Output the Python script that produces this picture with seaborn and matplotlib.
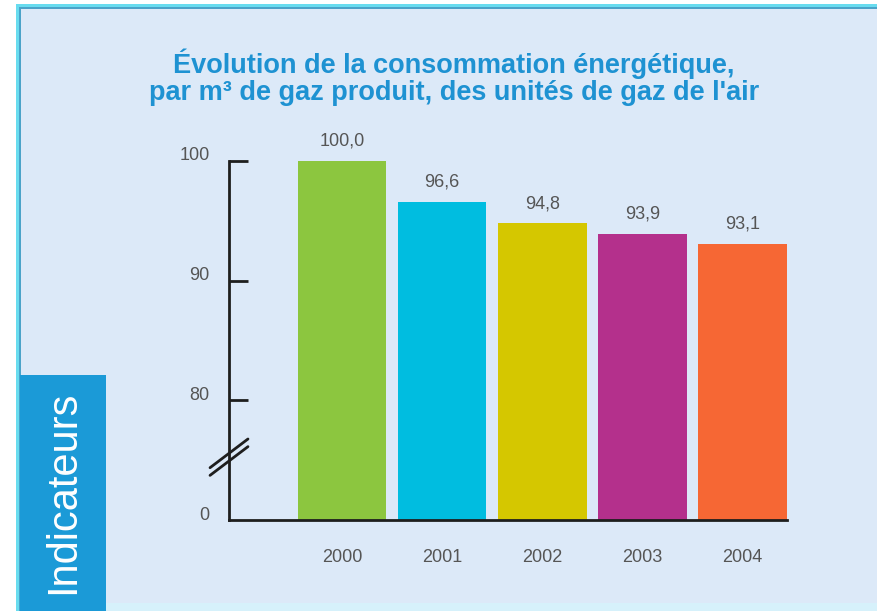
import matplotlib
matplotlib.use("Agg")
import matplotlib.pyplot as plt
from matplotlib.patches import Rectangle
from matplotlib.transforms import ScaledTranslation, blended_transform_factory
import seaborn as sns
import pandas as pd

# ---- data ----
years = ["2000", "2001", "2002", "2003", "2004"]
values = [100.0, 96.6, 94.8, 93.9, 93.1]
bar_colors = ["#8cc63f", "#00bde0", "#d5c700", "#b4308c", "#f66734"]
tick_values = [0, 80, 90, 100]
tick_labels = ["0", "80", "90", "100"]
title_line1 = "Évolution de la consommation énergétique,"
title_line2 = "par m³ de gaz produit, des unités de gaz de l'air"
side_label = "Indicateurs"

# broken axis: everything above the break is shifted down by this amount
BREAK_OFFSET = 70


def to_axis(v):
    return 0 if v == 0 else v - BREAK_OFFSET


df = pd.DataFrame({"year": years, "value": values})
df["plot_value"] = [to_axis(v) for v in values]

sns.set_theme(style="white")
plt.rcParams["font.family"] = ["Liberation Sans", "DejaVu Sans"]

W, H = 878, 611
fig = plt.figure(figsize=(W / 100, H / 100), dpi=100)
fig.patch.set_facecolor("white")


def frect(x0, y0_top, w, h, color, z=0):
    # rectangle in pixel coords measured from top-left
    fig.patches.append(Rectangle((x0 / W, 1 - (y0_top + h) / H), w / W, h / H,
                                 transform=fig.transFigure, facecolor=color,
                                 edgecolor="none", zorder=z))


# panel + frame
frect(16, 4, W - 16, H - 4, "#dce9f8", 0)
frect(16, 603, W - 16, 8, "#d6f1fb", 0.5)
frect(16, 4, W - 16, 3, "#68dcef", 1)
frect(16, 7, W - 16, 2, "#4ba3c9", 1)
frect(16, 4, 3, H - 4, "#68dcef", 1)
frect(19, 7, 2, H - 7, "#4ba3c9", 1)
# side label box
frect(20, 375, 86, H - 375, "#1b9ad7", 2)
fig.text(63 / W, 1 - 492 / H, side_label, rotation=90, ha="center", va="center",
         color="white", fontsize=30, zorder=3)

# title
title_color = "#1e92d2"
fig.text(454 / W, 1 - 73 / H, title_line1, ha="center", va="baseline",
         fontsize=19.5, fontweight="bold", color=title_color, zorder=3)
fig.text(454 / W, 1 - 100 / H, title_line2, ha="center", va="baseline",
         fontsize=19.5, fontweight="bold", color=title_color, zorder=3)

# axes
ax = fig.add_axes([229 / W, 91 / H, 558 / W, 359 / H])
ax.set_zorder(10)
ax.set_facecolor("none")
sns.barplot(data=df, x="year", y="plot_value", hue="year", palette=bar_colors,
            legend=False, width=0.885, saturation=1, linewidth=0, ax=ax, zorder=2)
ax.set_xlim(-1.13, 4.445)
ax.set_ylim(0, 30)
ax.set_xlabel("")
ax.set_ylabel("")

axis_color = "#1e1e1e"
for s in ["top", "right"]:
    ax.spines[s].set_visible(False)
for s in ["left", "bottom"]:
    ax.spines[s].set_color(axis_color)
    ax.spines[s].set_linewidth(2.0)
    ax.spines[s].set_zorder(3)

text_color = "#555555"
ax.set_yticks([to_axis(v) for v in tick_values])
ax.set_yticklabels(tick_labels)
ax.tick_params(axis="y", left=True, direction="in", length=14, width=2, color=axis_color,
               pad=14, labelsize=13, labelcolor=text_color)
ax.yaxis.get_major_ticks()[0].tick1line.set_visible(False)
for lab in ax.get_yticklabels():
    lab.set_transform(lab.get_transform() + ScaledTranslation(0, 7 / 100, fig.dpi_scale_trans))

ax.tick_params(axis="x", bottom=False, length=0, pad=21, labelsize=13, labelcolor=text_color)

# value labels
for cont, v in zip(ax.containers, values):
    ax.bar_label(cont, labels=[f"{v:.1f}".replace(".", ",")], padding=8,
                 fontsize=13, color=text_color)

# axis break marks
tr = blended_transform_factory(ax.transAxes, ax.transData)
yc = (520 - 457) / 12
for dy in (0.32, -0.32):
    ax.plot([-0.034, 0.034], [yc + dy - 1.2, yc + dy + 1.2], transform=tr,
            color=axis_color, lw=2, clip_on=False, zorder=4)

fig.savefig("out.png", dpi=100, facecolor=fig.get_facecolor())
